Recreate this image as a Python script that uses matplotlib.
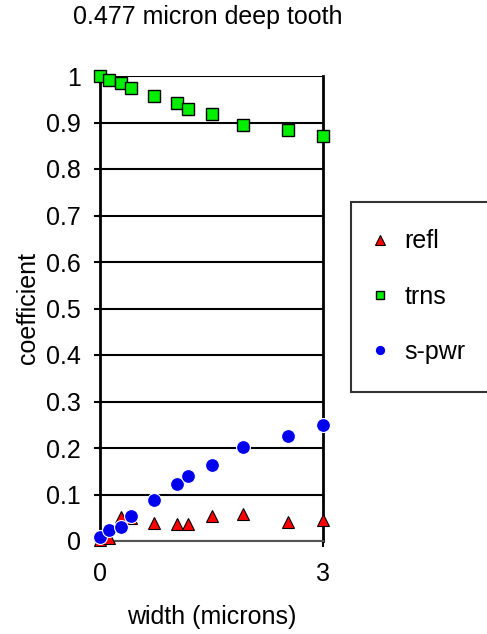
import matplotlib.pyplot as plt

plt.rcParams["font.family"] = ["Liberation Sans", "DejaVu Sans"]

# widths (microns) and coefficients
width = [0, 0.12, 0.28, 0.42, 0.72, 1.03, 1.18, 1.5, 1.92, 2.53, 3.0]
refl = [0.002, 0.006, 0.052, 0.05, 0.039, 0.036, 0.036, 0.054, 0.058, 0.040, 0.045]
trns = [0.999, 0.991, 0.986, 0.975, 0.958, 0.941, 0.929, 0.918, 0.894, 0.883, 0.871]
spwr = [0.008, 0.024, 0.031, 0.054, 0.088, 0.122, 0.140, 0.163, 0.203, 0.226, 0.249]

fig = plt.figure(figsize=(4.87, 6.34), dpi=100)
ax = fig.add_axes([100 / 487, 1 - 541 / 634, 223 / 487, 465 / 634])

ax.plot(width, refl, "^", color="red", mec="black", mew=0.8, ms=9,
        label="refl", clip_on=False, zorder=3)
ax.plot(width, trns, "s", color="#00ee00", mec="black", mew=1.0, ms=8,
        label="trns", clip_on=False, zorder=4)
ax.plot(width, spwr, "o", color="#0000ee", mec="white", mew=0.8, ms=10,
        label="s-pwr", clip_on=False, zorder=5)

ax.set_xlim(0, 3)
ax.set_ylim(0, 1)
ax.set_xticks([0, 3])
ax.set_yticks([i / 10 for i in range(11)])
ax.set_yticklabels(["0", "0.1", "0.2", "0.3", "0.4", "0.5", "0.6", "0.7",
                    "0.8", "0.9", "1"])
ax.yaxis.grid(True, color="black", linewidth=1.5)
ax.set_axisbelow(True)

for side in ["left", "right"]:
    ax.spines[side].set_linewidth(2)
ax.spines["top"].set_visible(False)
ax.spines["bottom"].set_color("#555555")
ax.spines["bottom"].set_linewidth(1.5)

ax.tick_params(axis="y", direction="out", length=4, width=1.5, pad=10, labelsize=18)
ax.tick_params(axis="x", direction="out", length=4, width=1.5, pad=11, labelsize=18)

ax.set_xlabel("width (microns)", fontsize=18, labelpad=14)
ax.set_ylabel("coefficient", fontsize=18, labelpad=4)
fig.text(208 / 487, 1 - 17 / 634, "0.477 micron deep tooth", fontsize=18,
         ha="center", va="center")

leg = fig.legend(loc="upper left", bbox_to_anchor=(351 / 487, 1 - 202 / 634),
                 frameon=True, fancybox=False, edgecolor="black", fontsize=18,
                 markerscale=0.75, labelspacing=1.25, borderpad=1.1,
                 handletextpad=0.95, handlelength=0.1, borderaxespad=0)
leg.get_frame().set_linewidth(1.5)

fig.savefig("out.png", dpi=100)
